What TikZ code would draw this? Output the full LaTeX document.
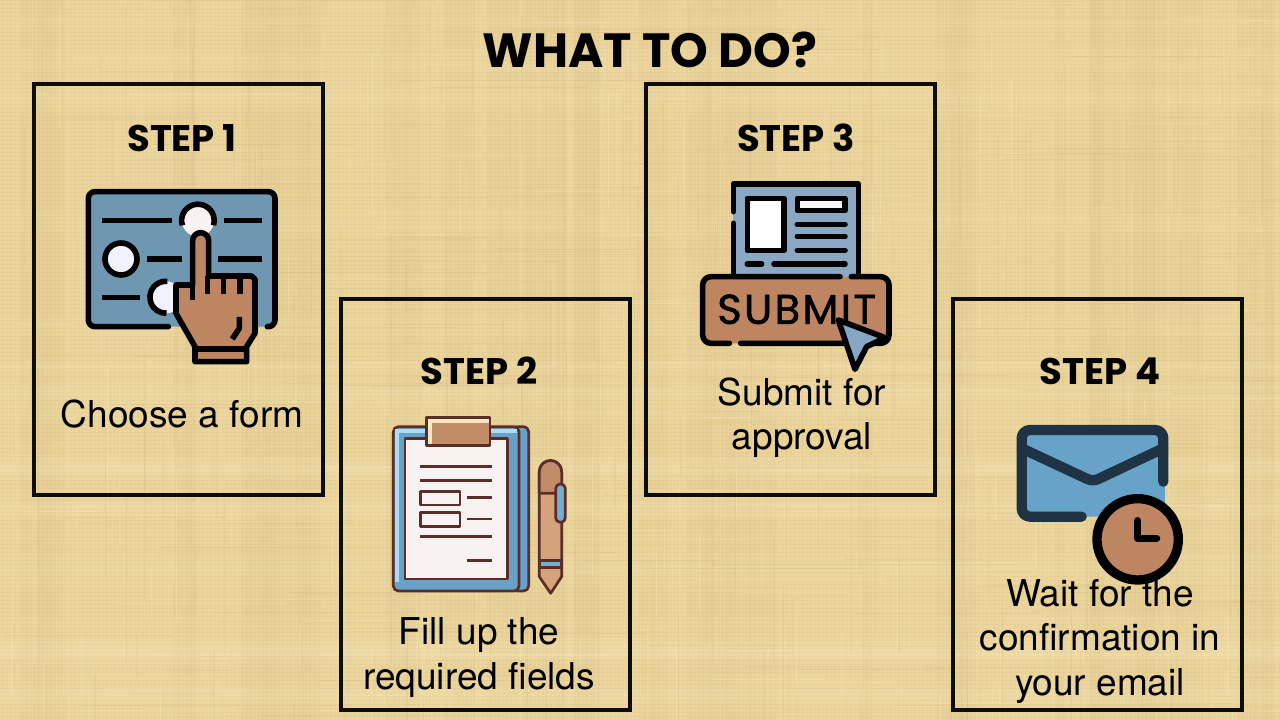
\documentclass[tikz,border=0pt]{standalone}
\usepackage{fontspec}
\setmainfont{TeX Gyre Heros}
\newfontfamily\popb[BoldFont={Poppins Bold}]{Poppins}
\newfontfamily\popsp[LetterSpace=6,FakeBold=1.6]{Poppins}
\begin{document}
\begin{tikzpicture}[x=1pt,y=-1pt,
  stepbox/.style={draw=black!95,line width=4pt,fill=none,outer sep=0pt,inner sep=0pt,minimum width=289pt,minimum height=411pt,anchor=north west},
  steptitle/.style={font=\popb\bfseries\fontsize{37}{40}\selectfont,anchor=base,inner sep=0pt},
  bodytext/.style={font=\fontsize{37}{40}\selectfont,anchor=base,inner sep=0pt},
  ico/.style={line width=5.6pt,line cap=round,line join=round,draw=black},
  hair/.style={line width=2.7pt,line join=round,draw=brownline},
]
\definecolor{paper}{HTML}{EAD398}
\definecolor{paperd}{HTML}{C9AC6C}
\definecolor{paperl}{HTML}{F9EDC4}
\definecolor{panelblue}{HTML}{6F97B2}
\definecolor{handbrown}{HTML}{BD8561}
\definecolor{brownline}{HTML}{5C2E2A}
\definecolor{boardblue}{HTML}{67A3C9}
\definecolor{boardlight}{HTML}{A9DDF2}
\definecolor{sheet}{HTML}{F8F2F3}
\definecolor{clipbrown}{HTML}{C28C68}
\definecolor{clipcream}{HTML}{F8E6C4}
\definecolor{penbrown}{HTML}{D4A37C}
\definecolor{docblue}{HTML}{8AA8C3}
\definecolor{envblue}{HTML}{67A3C8}
\definecolor{envline}{HTML}{1F3345}
\useasboundingbox (0,0) rectangle (1280,720);
% paper background
\fill[paper] (0,0) rectangle (1280,720);
\pgfmathsetseed{4711}
\foreach \i in {1,...,40}{
  \pgfmathsetmacro\xa{random(0,1280)}
  \pgfmathsetmacro\wa{random(8,34)}
  \fill[paperd,opacity=.06] (\xa,0) rectangle ++(\wa,720);
}
\foreach \i in {1,...,30}{
  \pgfmathsetmacro\ya{random(0,720)}
  \pgfmathsetmacro\wa{random(6,26)}
  \fill[paperl,opacity=.10] (0,\ya) rectangle ++(1280,\wa);
}
% fine woven grid
\foreach \gx in {0,4,...,1280}
  \draw[paperl,opacity=.16,line width=.9pt] (\gx,0) -- (\gx,720);
\foreach \gy in {0,4,...,720}
  \draw[paperd,opacity=.10,line width=.9pt] (0,\gy) -- (1280,\gy);
\foreach \i in {1,...,170}{
  \pgfmathsetmacro\xa{random(0,1280)}
  \pgfmathsetmacro\ya{random(0,720)}
  \pgfmathsetmacro\la{random(40,240)}
  \draw[paperd,opacity=.18,line width=.7pt] (\xa,\ya) -- ++(0,\la);
  \pgfmathsetmacro\xb{random(0,1280)}
  \pgfmathsetmacro\yb{random(0,720)}
  \pgfmathsetmacro\lb{random(60,320)}
  \draw[paperd,opacity=.18,line width=.7pt] (\xb,\yb) -- ++(\lb,0);
  \pgfmathsetmacro\xc{random(0,1280)}
  \pgfmathsetmacro\yc{random(0,720)}
  \pgfmathsetmacro\lc{random(30,160)}
  \draw[paperl,opacity=.22,line width=.7pt] (\xc,\yc) -- ++(0,\lc);
  \pgfmathsetmacro\xd{random(0,1280)}
  \pgfmathsetmacro\yd{random(0,720)}
  \pgfmathsetmacro\ld{random(40,200)}
  \draw[paperl,opacity=.22,line width=.7pt] (\xd,\yd) -- ++(\ld,0);
}
% title
\node[font=\popb\bfseries\fontsize{48}{50}\selectfont,anchor=base,inner sep=0pt] (title) at (650,67) {WHAT TO DO?};
% boxes
\node[stepbox] (box1) at (34,84) {};
\node[stepbox] (box2) at (341,299) {};
\node[stepbox] (box3) at (646,84) {};
\node[stepbox] (box4) at (953,299) {};
% icon 1 : form and hand
\begin{scope}[shift={(70,170)},x=.3333pt,y=-.3333pt]
  \fill[panelblue,rounded corners=5pt] (55,65) rectangle (615,470);
  \draw[ico] (295,470) -- (75,470) arc[start angle=90,end angle=180,radius=20] -- (55,85) arc[start angle=180,end angle=270,radius=20] -- (595,65) arc[start angle=270,end angle=360,radius=20] -- (615,450) arc[start angle=0,end angle=90,radius=20] -- (592,470);
  \foreach \a/\b/\c in {97/307/152,462/575/152,232/335/267,443/575/267,97/210/382}
    \draw[ico,line cap=butt] (\a,\c) -- (\b,\c);
  \fill[sheet] (384,152) circle[radius=48];
  \draw[ico,line cap=butt] (337,166) arc[start angle=163,end angle=377,radius=49];
  \filldraw[ico,fill=white!95!blue] (153,267) circle[radius=48];
  \fill[white!95!blue] (288,382) circle[radius=48];
  \draw[ico,line cap=butt] (292,334) arc[start angle=275,end angle=88,radius=48];
  \filldraw[ico,fill=handbrown,line cap=butt] (318,345) -- (368,345) -- (368,212) arc[start angle=180,end angle=360,radius=24] -- (416,318) -- (545,318) -- (555,328) -- (555,490) -- (530,530) -- (530,575) -- (375,575) -- (375,530) -- (318,430) -- cycle;
  \draw[ico,line cap=butt] (368,345) -- (368,390);
  \draw[ico,line cap=butt] (412,318) -- (412,372);
  \draw[ico,line cap=butt] (460,318) -- (460,372);
  \draw[ico,line cap=butt] (510,318) -- (510,372);
  \draw[ico,line cap=butt] (375,537) -- (530,537);
  \draw[ico,line cap=butt] (508,441) -- (508,475) -- (487,507);
\end{scope}
% icon 2 : clipboard and pen
\begin{scope}[shift={(380,405)},x=.3333pt,y=-.3333pt]
  \filldraw[hair,fill=boardblue,rounded corners=5pt] (395,65) rectangle (446,558);
  \filldraw[hair,fill=boardblue,rounded corners=5pt] (40,65) rectangle (417,558);
  \fill[boardlight] (46,72) rectangle (57,530);
  \fill[boardlight] (46,71) rectangle (411,84);
  \filldraw[hair,fill=sheet] (75,100) rectangle (383,522);
  \filldraw[hair,fill=clipbrown] (140,37) rectangle (330,122);
  \fill[clipcream] (144,41) rectangle (326,54);
  \fill[clipcream] (144,41) rectangle (157,118);
  \foreach \a/\b/\c in {120/335/185,120/335/227,260/335/278,260/335/342,120/335/394,260/335/467}
    \draw[hair] (\a,\c) -- (\b,\c);
  \filldraw[hair,fill=sheet] (122,260) rectangle (240,300);
  \filldraw[hair,fill=sheet] (122,323) rectangle (240,364);
  \filldraw[hair,fill=penbrown] (478,200) arc[start angle=180,end angle=360,radius=33.5] -- (545,515) -- (512,565) -- (478,515) -- cycle;
  \filldraw[hair,fill=clipbrown] (478,265) -- (478,200) arc[start angle=180,end angle=360,radius=33.5] -- (545,265) -- cycle;
  \filldraw[hair,fill=boardblue!80!boardlight] (478,467) rectangle (545,487);
  \filldraw[hair,fill=boardblue!80!boardlight,rounded corners=4.5pt] (527,237) rectangle (556,352);
\end{scope}
% icon 3 : submit
\begin{scope}[shift={(690,170)},x=.3333pt,y=-.3333pt]
  \fill[docblue] (130,42) rectangle (505,325);
  \draw[ico] (130,125) -- (130,42) -- (505,42) -- (505,318);
  \draw[ico] (130,160) -- (130,315);
  \filldraw[ico,fill=white] (172,85) rectangle (282,242);
  \filldraw[ico,fill=sheet!70!blue!10!white] (322,85) rectangle (465,122);
  \foreach \a/\b/\c in {322/465/163,322/465/200,322/465/241,172/215/282,252/465/282}
    \draw[ico] (\a,\c) -- (\b,\c);
  \fill[handbrown,rounded corners=8pt] (38,320) rectangle (597,520);
  \draw[ico] (450,320) -- (63,320) arc[start angle=270,end angle=180,radius=25] -- (38,495) arc[start angle=180,end angle=90,radius=25] -- (118,520);
  \draw[ico] (152,520) -- (572,520) arc[start angle=90,end angle=0,radius=25] -- (597,345) arc[start angle=0,end angle=-90,radius=25] -- (484,320);
  \node[font=\popsp\fontsize{41.5}{45}\selectfont,inner sep=0pt] (submitword) at (320,418) {SUBMIT};
  \filldraw[ico,fill=docblue!90!boardblue] (445,450) -- (585,503) -- (530,530) -- (495,598) -- cycle;
\end{scope}
% icon 4 : envelope and clock
\begin{scope}[shift={(1000,410)},x=.3333pt,y=-.3333pt]
  \fill[envblue,rounded corners=6pt] (65,60) rectangle (495,320);
  \draw[envline,line width=10.3pt,line cap=round,line join=round] (245,320) -- (90,320) arc[start angle=90,end angle=180,radius=25] -- (65,85) arc[start angle=180,end angle=270,radius=25] -- (465,60) arc[start angle=270,end angle=360,radius=25] -- (490,215);
  \draw[envline,line width=10.3pt,line cap=round,line join=round] (65,115) -- (262,207) .. controls (272,212) and (284,212) .. (295,207) -- (490,115);
  \filldraw[draw=black,fill=handbrown,line width=9.3pt] (413,388) circle[radius=122];
  \draw[black,line width=7.3pt,line cap=round,line join=round] (413,332) -- (413,385) -- (470,385);
\end{scope}
% step titles
\node[steptitle] (s1) at (182,151) {STEP 1};
\node[steptitle] (s2) at (479,384) {STEP 2};
\node[steptitle] (s3) at (796,151) {STEP 3};
\node[steptitle] (s4) at (1100,384) {STEP 4};
% body text
\node[bodytext] (t1) at (182,427) {Choose a form};
\node[bodytext] (t2a) at (479,644) {Fill up the};
\node[bodytext] (t2b) at (479,689) {required fields};
\node[bodytext] (t3a) at (802,405) {Submit for};
\node[bodytext] (t3b) at (802,449) {approval};
\node[bodytext] (t4a) at (1100,606) {Wait for the};
\node[bodytext] (t4b) at (1100,650) {confirmation in};
\node[bodytext] (t4c) at (1100,695) {your email};
\end{tikzpicture}
\end{document}
